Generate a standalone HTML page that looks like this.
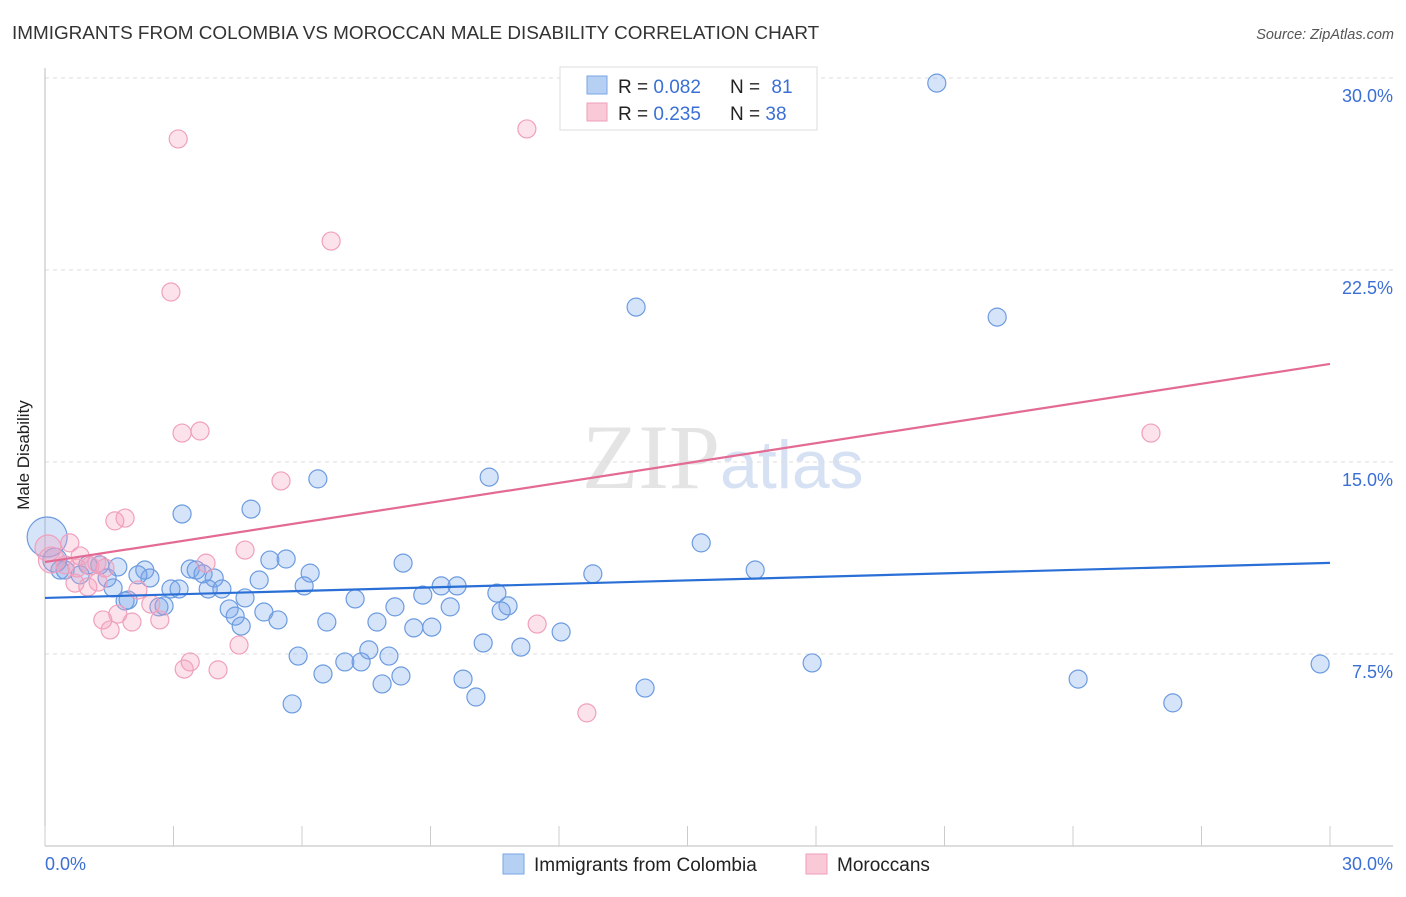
<!DOCTYPE html>
<html><head><meta charset="utf-8"><style>
body{margin:0;background:#fff;font-family:"Liberation Sans",sans-serif}
</style></head><body>
<svg id="c" width="1406" height="892" xmlns="http://www.w3.org/2000/svg" style="font-family:'Liberation Sans',sans-serif">
<text x="12" y="39" font-size="18.9" fill="#333">IMMIGRANTS FROM COLOMBIA VS MOROCCAN MALE DISABILITY CORRELATION CHART</text>
<text x="1394" y="39" font-size="14.5" fill="#555" font-style="italic" text-anchor="end">Source: ZipAtlas.com</text>
<text x="720" y="488" font-size="92" fill="#e4e4e4" text-anchor="end" font-family="Liberation Serif">ZIP</text>
<text x="720" y="488" font-size="68" fill="#d6e2f4">atlas</text>
<g id="grid"></g><g id="axes"></g><g id="pts"></g><g id="lines"></g>
<text x="29" y="455" font-size="17" fill="#222" text-anchor="middle" transform="rotate(-90 29 455)">Male Disability</text>
<g>
<rect x="560" y="67" width="257" height="63" fill="#fff" stroke="#ddd"/>
<rect x="587" y="76" width="20" height="18" fill="#b6d0f3" stroke="#7aa5e4"/>
<text x="618" y="93" font-size="19" fill="#222">R = <tspan fill="#3b6fd4">0.082</tspan></text>
<text x="730" y="93" font-size="19" fill="#222">N = <tspan fill="#3b6fd4" dx="6">81</tspan></text>
<rect x="587" y="103" width="20" height="18" fill="#f9c9d7" stroke="#ee9fb9"/>
<text x="618" y="120" font-size="19" fill="#222">R = <tspan fill="#3b6fd4">0.235</tspan></text>
<text x="730" y="120" font-size="19" fill="#222">N = <tspan fill="#3b6fd4">38</tspan></text>
</g>
<g>
<rect x="503" y="854" width="21" height="20" fill="#b6d0f3" stroke="#7aa5e4"/>
<text x="534" y="871" font-size="19" fill="#222">Immigrants from Colombia</text>
<rect x="806" y="854" width="21" height="20" fill="#f9c9d7" stroke="#ee9fb9"/>
<text x="837" y="871" font-size="19" fill="#222">Moroccans</text>
</g>
</svg>
<script>
const yTicks=[7.5,15,22.5,30];
const yTickLabels=["7.5%","15.0%","22.5%","30.0%"];
const xTickLabels=["0.0%","30.0%"];
const blueX=[20.82,13.80,22.23,10.37,6.37,4.81,3.20,15.32,8.36,5.25,5.63,16.58,12.79,6.19,3.39,3.53,3.69,3.95,2.33,1.70,1.28,1.00,0.35,0.47,0.82,1.45,2.45,2.17,5.00,9.25,9.62,6.05,3.81,4.13,2.94,3.13,1.59,1.94,1.87,4.67,7.24,8.82,10.55,9.46,10.81,10.65,8.17,4.30,5.11,2.66,2.78,4.44,5.44,7.75,6.58,8.61,9.03,12.05,4.58,10.23,11.11,7.56,5.91,8.03,7.00,7.38,8.31,6.49,7.87,9.76,10.06,14.01,5.77,17.91,24.12,26.33,29.77,0.05,0.23];
const blueY=[29.80,21.05,20.66,14.41,14.34,13.16,12.97,11.84,11.05,11.17,11.21,10.78,10.63,10.66,10.82,10.78,10.63,10.47,10.78,10.90,10.98,10.98,10.78,10.78,10.59,10.47,10.47,10.59,10.39,10.16,10.16,10.16,10.04,10.04,10.04,10.04,10.08,9.61,9.57,9.69,9.65,9.80,9.88,9.34,9.38,9.18,9.34,9.26,9.14,9.34,9.38,8.98,8.83,8.75,8.75,8.52,8.55,8.36,8.59,7.93,7.77,7.66,7.42,7.42,7.19,7.19,6.64,6.72,6.33,6.52,5.82,6.17,5.55,7.15,6.52,5.59,7.11,12.07,11.17];
const blueR=blueX.map((_,i)=>i==blueX.length-2?20:(i==blueX.length-1?12:9));
const pinkX=[3.11,11.25,6.68,2.94,3.20,3.62,25.82,5.51,1.87,1.63,4.67,3.76,0.58,0.82,1.05,0.47,0.75,1.21,1.40,0.70,1.00,1.24,2.17,2.47,2.68,1.35,1.70,2.03,1.52,11.49,4.53,3.39,3.25,4.04,12.65,0.07,0.15];
const pinkY=[27.62,28.01,23.63,21.64,16.13,16.21,16.13,14.26,12.81,12.70,11.56,11.05,11.84,11.33,10.94,10.98,10.86,11.05,10.86,10.27,10.12,10.31,10.00,9.45,8.83,8.83,9.06,8.75,8.44,8.67,7.85,7.19,6.91,6.88,5.20,11.64,11.17];
const pinkR=pinkX.map((_,i)=>i>=pinkX.length-2?13:9);
const blueTrend=[9.69,11.06];
const pinkTrend=[11.09,18.83];
const X=v=>45+v/30*1285, Y=v=>846-v/7.5*192;
const NS="http://www.w3.org/2000/svg";
function mk(p,t,a){const e=document.createElementNS(NS,t);for(const k in a)e.setAttribute(k,a[k]);document.getElementById(p).appendChild(e);return e;}
yTicks.forEach((t,i)=>{
 const g=mk('grid','line',{x1:45,x2:1393,y1:Y(t),y2:Y(t),stroke:'#ddd','stroke-dasharray':'4,4'});
 
 
 const l=mk('grid','text',{x:1393,y:Y(t)+24,'font-size':18,fill:'#3b6fd4','text-anchor':'end'});
 l.textContent=yTickLabels[i];
 
 
});
const ax=mk('axes','line',{x1:45,x2:45,y1:68,y2:846,stroke:'#bbb'});


const bx=mk('axes','line',{x1:45,x2:1393,y1:846,y2:846,stroke:'#bbb'});


for(let i=0;i<=10;i++){const t=mk('axes','line',{x1:X(i*3),x2:X(i*3),y1:826,y2:846,stroke:'#ccc'});
 
 }
[[45,'start'],[1393,'end']].forEach((p,i)=>{const t=mk('axes','text',{x:p[0],y:870,'font-size':18,fill:'#3b6fd4','text-anchor':p[1]});t.textContent=xTickLabels[i];
 
 });
blueX.forEach((v,i)=>{const c=mk('pts','circle',{cx:X(v),cy:Y(blueY[i]),r:blueR[i],fill:'rgba(120,165,235,0.3)',stroke:'#6c9be0','stroke-width':1.2});
 
 });
pinkX.forEach((v,i)=>{const c=mk('pts','circle',{cx:X(v),cy:Y(pinkY[i]),r:pinkR[i],fill:'rgba(245,160,190,0.3)',stroke:'#f0a0bc','stroke-width':1.2});
 
 });
const bl=mk('lines','line',{x1:X(0),y1:Y(blueTrend[0]),x2:X(30),y2:Y(blueTrend[1]),stroke:'#2a6fd6','stroke-width':2.2});


const pl=mk('lines','line',{x1:X(0),y1:Y(pinkTrend[0]),x2:X(30),y2:Y(pinkTrend[1]),stroke:'#e36b93','stroke-width':2.2});


</script>
</body></html>
